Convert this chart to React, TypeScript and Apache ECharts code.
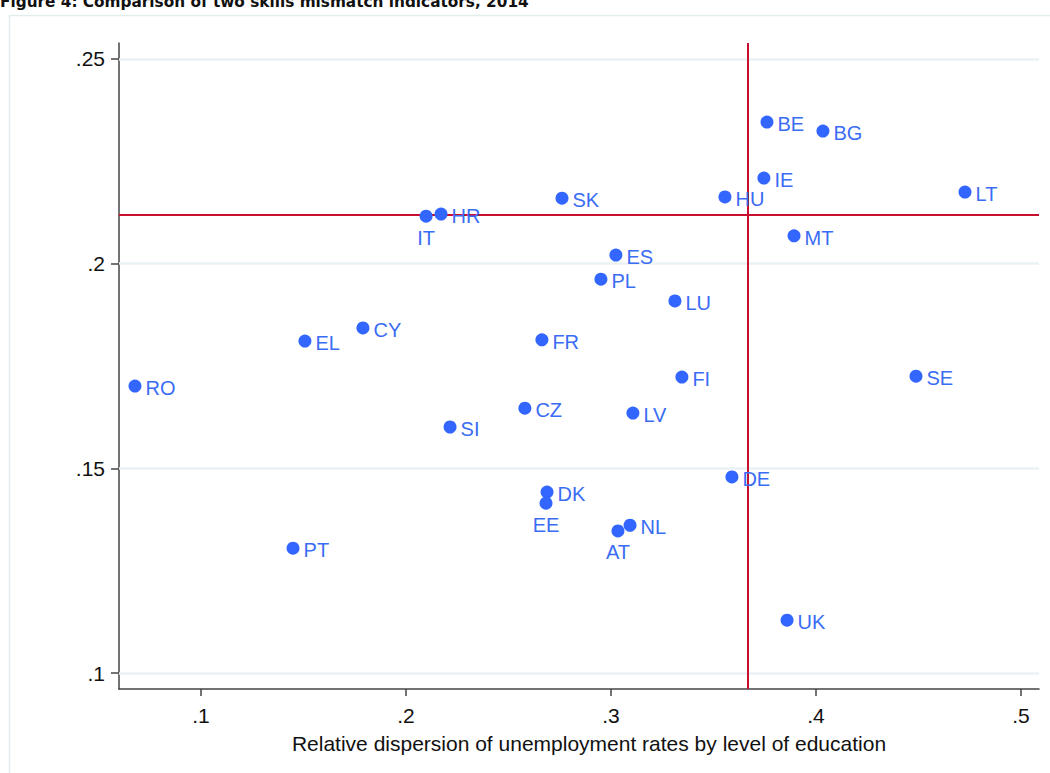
import React, { useEffect, useRef } from "react";
import * as echarts from "echarts";

const countries = ["BE","BG","IE","LT","HU","SK","HR","IT","MT","ES","PL","LU","CY","EL","FR","RO","FI","SE","CZ","LV","SI","DE","DK","EE","NL","AT","PT","UK"];
const dispersion = [0.3761,0.4034,0.3746,0.4727,0.3556,0.2761,0.2171,0.2098,0.3893,0.3024,0.2951,0.3312,0.1790,0.1507,0.2663,0.0678,0.3346,0.4488,0.2580,0.3107,0.2215,0.3590,0.2688,0.2683,0.3093,0.3034,0.1449,0.3859];
const mismatch = [0.2346,0.2324,0.2209,0.2175,0.2163,0.2160,0.2121,0.2116,0.2068,0.2021,0.1962,0.1909,0.1843,0.1811,0.1814,0.1701,0.1723,0.1725,0.1647,0.1635,0.1601,0.1479,0.1442,0.1415,0.1361,0.1347,0.1305,0.1129];
const belowLabels = ["IT","EE","AT"];
const xTicks = [0.1, 0.2, 0.3, 0.4, 0.5];
const yTicks = [0.1, 0.15, 0.2, 0.25];
const xMean = 0.3668;
const yMean = 0.2119;
const titleText = "Figure 4: Comparison of two skills mismatch indicators, 2014";
const xAxisTitle = "Relative dispersion of unemployment rates by level of education";

const fmt = (v: number) => {
  const s = String(Math.round(v * 100) / 100);
  return s.startsWith("0") ? s.slice(1) : s;
};

export default function App() {
  const ref = useRef<HTMLDivElement>(null);
  useEffect(() => {
    if (!ref.current) return;
    const chart = echarts.init(ref.current, null, { renderer: "svg" });
    const data = countries.map((c, i) => ({
      name: c,
      value: [dispersion[i], mismatch[i]],
      label: belowLabels.includes(c)
        ? { position: "bottom", distance: 5 }
        : { position: "right", distance: 4, offset: [0, 2] },
    }));
    const font = "'Liberation Sans', Arial, sans-serif";
    chart.setOption({
      animation: false,
      backgroundColor: "#ffffff",
      graphic: [
        {
          type: "rect",
          shape: { x: 9.5, y: 15.5, width: 1100, height: 800 },
          style: { fill: "none", stroke: "#e4eded", lineWidth: 1.5 },
          z: -10,
          silent: true,
        },
        {
          type: "text",
          x: 0,
          y: -6,
          style: {
            text: titleText,
            font: "bold 15.3px 'DejaVu Sans', Verdana, sans-serif",
            fill: "#111",
          },
        },
      ],
      grid: { left: 119, top: 43, right: 11, bottom: 84, containLabel: false },
      xAxis: {
        type: "value",
        min: 0.06,
        max: 0.5088,
        name: xAxisTitle,
        nameLocation: "middle",
        nameGap: 44,
        nameTextStyle: { color: "#111", fontSize: 21, fontFamily: font, verticalAlign: "top", padding: [0, 0, 0, 20] },
        axisLine: { show: true, onZero: false, lineStyle: { color: "#444", width: 1.5 } },
        axisTick: { show: true, length: 7, customValues: xTicks, lineStyle: { color: "#444", width: 1.5 } },
        axisLabel: { customValues: xTicks, formatter: fmt, color: "#111", fontSize: 21, fontFamily: font, margin: 16 },
        splitLine: { show: false },
      },
      yAxis: {
        type: "value",
        min: 0.0961,
        max: 0.2539,
        axisLine: { show: true, onZero: false, lineStyle: { color: "#444", width: 1.5 } },
        axisTick: { show: true, length: 8, customValues: yTicks, lineStyle: { color: "#444", width: 1.5 } },
        axisLabel: { customValues: yTicks, formatter: fmt, color: "#111", fontSize: 21, fontFamily: font, margin: 14 },
        splitLine: { show: false },
      },
      series: [
        {
          type: "scatter",
          data,
          symbol: "circle",
          symbolSize: 13,
          itemStyle: { color: "#3366ff", opacity: 1 },
          label: {
            show: true,
            formatter: "{b}",
            color: "#3a6cf4",
            fontSize: 20,
            fontFamily: font,
          },
          z: 5,
          markLine: {
            silent: true,
            symbol: ["none", "none"],
            precision: 5,
            label: { show: false },
            animation: false,
            data: [
              ...yTicks.map((v) => ({ yAxis: v, lineStyle: { color: "#eaf2f3", width: 2.5, type: "solid" } })),
              { xAxis: xMean, lineStyle: { color: "#c8102e", width: 2, type: "solid" } },
              { yAxis: yMean, lineStyle: { color: "#c8102e", width: 2, type: "solid" } },
            ],
            z: 1,
          },
        },
      ],
    });
    return () => chart.dispose();
  }, []);
  return (
    <div
      ref={ref}
      style={{ position: "fixed", left: 0, top: 0, width: 1050, height: 773 }}
    />
  );
}
